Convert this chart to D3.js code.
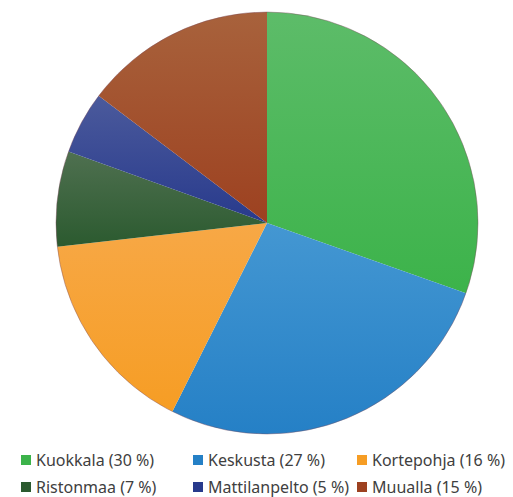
<!DOCTYPE html>
<html>
<head>
<meta charset="utf-8">
<script src="https://cdn.jsdelivr.net/npm/d3@7"></script>
<style>
  body { margin: 0; background: #fff; }
  svg text { font-family: "Noto Sans", "Open Sans", sans-serif; }
</style>
</head>
<body>
<div id="chart"></div>
<script>
var areas = ['Kuokkala', 'Keskusta', 'Kortepohja', 'Ristonmaa', 'Mattilanpelto', 'Muualla']
// shares; the legend shows them rounded
var shares = [30.4, 27.0, 15.8, 7.3, 4.8, 14.7]
var colors = ['#3cb34a', '#2580c6', '#f69d24', '#2b5a2f', '#283a8c', '#9d4120']
var lightColors = ['#5dbc69', '#4497d2', '#f7a846', '#4f7050', '#4b5a9c', '#a8623c']

var data = areas.map(function(a, i) { return {name: a, value: shares[i], i: i} })

var width = 513, height = 497
var cx = 267, cy = 223, radius = 211

var svg = d3.select("#chart")
    .append("svg")
    .attr("width", width)
    .attr("height", height)

// gradients, lighter on top
var defs = svg.append("defs")
data.forEach(function(d) {
    var g = defs.append("linearGradient")
        .attr("id", "grad" + d.i)
        .attr("x1", 0).attr("y1", 0)
        .attr("x2", 0).attr("y2", 1)
    g.append("stop").attr("offset", "0%").attr("stop-color", lightColors[d.i])
    g.append("stop").attr("offset", "100%").attr("stop-color", colors[d.i])
})

var pie = d3.pie()
    .sort(null)
    .value(function(d) { return d.value })

var arc = d3.arc()
    .innerRadius(0)
    .outerRadius(radius)

var g = svg.append("g")
    .attr("transform", "translate(" + cx + "," + cy + ")")

g.selectAll("path")
    .data(pie(data))
    .enter()
    .append("path")
    .attr("d", arc)
    .style("fill", function(d) { return "url(#grad" + d.data.i + ")" })

// thin outline around the pie
g.append("circle")
    .attr("r", radius)
    .style("fill", "none")
    .style("stroke", "#7b4b5c")
    .style("stroke-width", 0.7)
    .style("stroke-opacity", 0.6)

// LEGEND
var colX = [21, 193, 357]
var rowY = [455, 482]
var size = 10

var legend = svg.selectAll("legitem")
    .data(data)
    .enter()
    .append("g")
    .attr("transform", function(d, i) {
        return "translate(" + colX[i % 3] + "," + rowY[Math.floor(i / 3)] + ")"
    })

legend.append("rect")
    .attr("x", 0)
    .attr("y", 0)
    .attr("width", size)
    .attr("height", size)
    .style("fill", function(d) { return colors[d.i] })

legend.append("text")
    .attr("x", size + 5)
    .attr("y", 10.5)
    .style("font-size", "16px")
    .style("fill", "#404040")
    .text(function(d) { return d.name + " (" + Math.round(d.value) + " %)" })
</script>
</body>
</html>
